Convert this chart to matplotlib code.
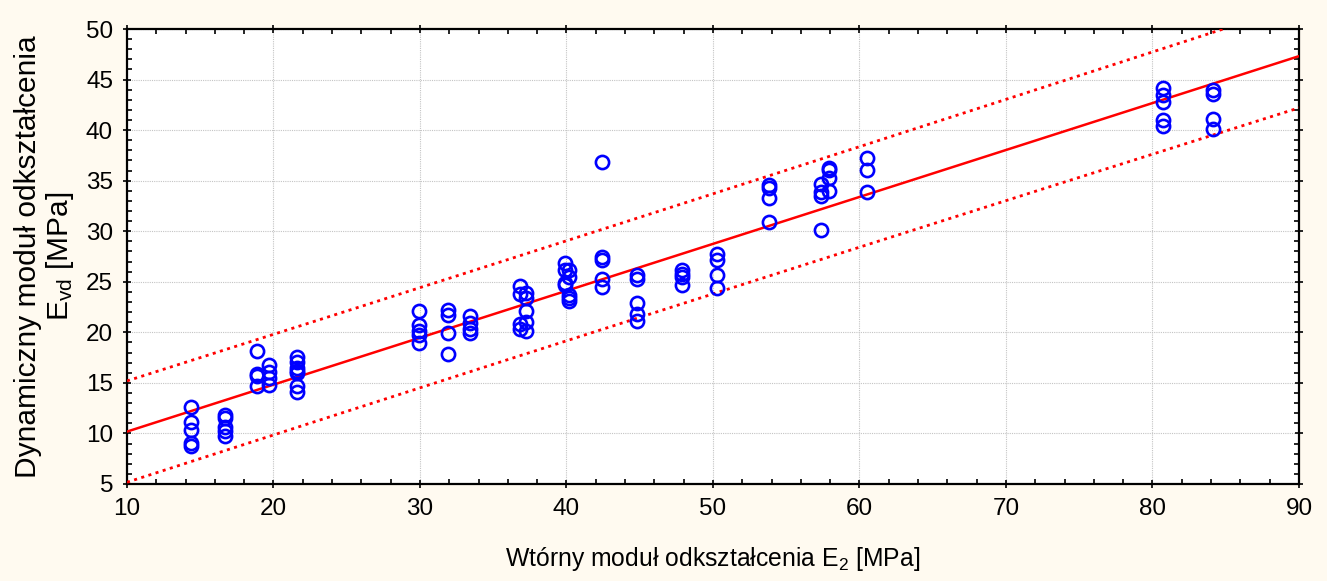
import numpy as np
import matplotlib
matplotlib.use("Agg")
import matplotlib.pyplot as plt
from matplotlib.ticker import MultipleLocator

plt.rcParams["font.family"] = ["Liberation Sans", "DejaVu Sans"]
plt.rcParams["mathtext.fontset"] = "custom"
plt.rcParams["mathtext.rm"] = "Liberation Sans"
plt.rcParams["mathtext.it"] = "Liberation Sans:italic"

# E2 (static) per measurement group and the Evd readings taken in that group
e2_groups = [14.4, 16.7, 18.9, 19.7, 21.6, 29.9, 31.9, 33.4, 36.8, 37.25,
             39.9, 40.2, 42.4, 44.8, 47.9, 50.3, 53.8, 57.4, 57.9, 60.5,
             80.7, 84.1]
evd_groups = [
    [12.6, 11.1, 10.3, 9.1, 8.8],
    [11.8, 11.5, 10.6, 10.2, 9.7],
    [18.2, 15.9, 15.7, 14.7],
    [16.8, 16.1, 15.5, 14.8],
    [17.6, 17.1, 16.5, 16.2, 16.0, 14.7, 14.1],
    [22.1, 20.7, 20.1, 19.7, 18.9],
    [22.2, 21.7, 19.9, 17.9],
    [21.6, 20.9, 20.3, 19.9],
    [24.6, 23.8, 20.8, 20.3],
    [23.9, 23.4, 22.1, 21.0, 20.1],
    [26.9, 26.2, 24.9, 24.7],
    [26.2, 25.5, 23.7, 23.4, 23.1],
    [36.8, 27.5, 27.2, 25.3, 24.5],
    [25.7, 25.3, 22.9, 21.8, 21.1],
    [26.2, 25.8, 25.5, 24.7],
    [27.7, 27.2, 25.7, 24.4],
    [34.6, 34.3, 33.3, 30.9],
    [34.7, 33.9, 33.5, 30.1],
    [36.3, 36.1, 35.3, 34.0],
    [37.2, 36.1, 33.9],
    [44.2, 43.5, 42.8, 41.0, 40.4],
    [44.0, 43.6, 41.1, 40.1],
]

x_ticks = [10, 20, 30, 40, 50, 60, 70, 80, 90]
y_ticks = [5, 10, 15, 20, 25, 30, 35, 40, 45, 50]

x = np.concatenate([[g] * len(v) for g, v in zip(e2_groups, evd_groups)])
y = np.concatenate(evd_groups)

# linear regression with 95% prediction band
n = len(x)
b1, b0 = np.polyfit(x, y, 1)
resid = y - (b0 + b1 * x)
s = np.sqrt(np.sum(resid ** 2) / (n - 2))
t = 1.984
xx = np.linspace(10, 90, 300)
yy = b0 + b1 * xx
half = t * s * np.sqrt(1 + 1 / n + (xx - x.mean()) ** 2 / np.sum((x - x.mean()) ** 2))

bg = "#FFFAF0"
fig = plt.figure(figsize=(13.27, 5.81), dpi=100, facecolor=bg)
ax = fig.add_axes([0.0957, 0.167, 0.8832, 0.783])
ax.set_facecolor("white")

ax.plot(xx, yy, color="#FF0000", lw=1.8, zorder=3)
ax.plot(xx, yy + half, color="#FF0000", lw=2.0, ls=(0, (1.1, 1.6)), zorder=3)
ax.plot(xx, yy - half, color="#FF0000", lw=2.0, ls=(0, (1.1, 1.6)), zorder=3)
ax.plot(x, y, ls="none", marker="o", ms=9.5, mfc="none", mec="#0000FF", mew=1.9, zorder=4)

ax.set_xlim(10, 90)
ax.set_ylim(5, 50)
ax.set_xticks(x_ticks)
ax.set_yticks(y_ticks)
ax.xaxis.set_minor_locator(MultipleLocator(2))
ax.yaxis.set_minor_locator(MultipleLocator(1))
ax.tick_params(which="major", direction="inout", length=6, width=1.2,
               top=True, right=True, labelsize=17.5, pad=7, colors="black")
ax.tick_params(which="minor", direction="in", length=3.5, width=1.2,
               top=True, right=True)
ax.grid(True, which="major", color="#C4C4C4", ls=(0, (1, 1)), lw=0.8)
for sp in ax.spines.values():
    sp.set_linewidth(1.6)

ax.set_xlabel("Wtórny moduł odkształcenia E$_2$ [MPa]", fontsize=17.8, labelpad=18)
ax.set_ylabel("Dynamiczny moduł odkształcenia\nE$_{\\mathrm{vd}}$ [MPa]",
              fontsize=21.5, labelpad=7, linespacing=1.08)

fig.savefig("out.png", dpi=100, facecolor=bg)
